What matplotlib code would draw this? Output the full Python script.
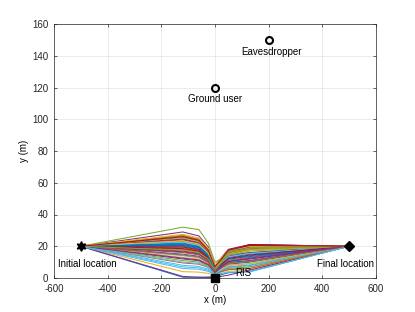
import matplotlib
matplotlib.use("Agg")
import matplotlib.pyplot as plt

# MATLAB default colour order
COLORS = ["#0072BD", "#D95319", "#EDB120", "#7E2F8E", "#77AC30", "#4DBEEE", "#A2142F"]

# x knots shared by every trajectory (m)
traj_x = [-500, -120, -60, -25, 0, 50, 130, 500]

# y of each trajectory at the knots above
y_start = 20
y_m120 = [22, 18, 26, 29, 32, 14, 24, 20, 16, 25, 12, 27, 8, 21,
          0.5, 19, 4, 1.0, 23, 6, 17, 15, 26.5, 13, 24.5, 11, 22.5, 18.5,
          21.5, 9.5, 23.5, 16.5, 25.5, 10, 19.5, 20.5, 14.5, 27.5, 12.5, 17.5, 7, 26]
y_m60 = [20.1, 16.4, 23.7, 26.5, 30.5, 12.8, 21.8, 18.2, 14.6, 22.8, 10.9, 24.6, 7.3, 19.2,
         0.5, 17.3, 3.7, 0.4, 21.0, 5.5, 15.6, 13.7, 24.2, 11.9, 22.3, 10.0, 20.5, 16.9,
         19.6, 8.7, 21.4, 15.1, 23.3, 9.2, 17.8, 18.7, 13.2, 25.2, 11.4, 16.0, 6.4, 23.7]
y_m25 = [14.8, 12.2, 17.5, 19.6, 22.0, 9.5, 15.9, 13.3, 10.6, 16.9, 8.0, 18.0, 5.5, 14.3,
         0.6, 12.7, 2.9, 0.3, 15.4, 4.2, 11.6, 10.0, 17.7, 9.0, 16.2, 7.4, 15.1, 12.4,
         14.5, 6.6, 15.6, 11.1, 17.2, 6.9, 13.0, 13.8, 9.8, 18.7, 8.5, 11.9, 4.8, 17.5]
y_0 = [6, 5, 7, 8, 10, 4, 6, 5, 4, 7, 3, 7, 2.5, 6,
       1, 5, 1.5, 0.3, 6, 2, 5, 4, 7, 4, 6, 3, 6, 5,
       6, 3, 6, 4.5, 7, 3, 5, 5.5, 4, 8, 3.5, 5, 2, 7]
y_50 = [13.0, 10.5, 16.4, 18.1, 14.7, 7.9, 17.7, 12.0, 9.5, 15.6, 6.9, 17.1, 5.2, 17.3,
        3.3, 11.2, 4.2, 1.8, 14.6, 5.9, 16.3, 8.7, 16.0, 7.9, 13.8, 6.1, 13.4, 17.5,
        11.9, 5.3, 15.0, 10.4, 16.4, 6.9, 12.4, 9.8, 9.1, 17.4, 10.5, 15.1, 3.6, 17.5]
y_130 = [15, 12, 19, 21, 16, 9, 21, 14, 11, 18, 8, 20, 6, 20.5,
         4, 13, 5, 5, 17, 7, 19.5, 10, 18.5, 9, 16, 7, 15.5, 21,
         13.5, 6, 17.5, 12, 19, 8, 14.5, 11, 10.5, 20, 12.5, 18, 4, 20.5]
y_end = 20

# special locations
start_xy = (-500, 20)
end_xy = (500, 20)
ris_xy = (0, 0)
user_xy = (0, 120)
eve_xy = (200, 150)

plt.rcParams["font.family"] = ["Liberation Sans", "DejaVu Sans"]
plt.rcParams["font.size"] = 7
plt.rcParams["axes.unicode_minus"] = False

fig = plt.figure(figsize=(4.15, 3.12), dpi=100)
ax = fig.add_axes([0.13, 0.109, 0.776, 0.814])

for i in range(len(y_m120)):
    ys = [y_start, y_m120[i], y_m60[i], y_m25[i], y_0[i], y_50[i], y_130[i], y_end]
    ax.plot(traj_x, ys, color=COLORS[i % len(COLORS)], lw=0.75)

ax.plot(*start_xy, marker=(6, 1, 0), color="k", ms=7, ls="none")
ax.plot(*end_xy, marker="D", color="k", ms=5.5, ls="none")
ax.plot(*ris_xy, marker="s", color="k", ms=5.5, ls="none", clip_on=False, zorder=5)
ax.plot(*user_xy, marker="o", mfc="none", mec="k", mew=1.5, ms=5, ls="none")
ax.plot(*eve_xy, marker="o", mfc="none", mec="k", mew=1.5, ms=5, ls="none")

ax.text(-475, 9, "Initial location", ha="center", va="center")
ax.text(488, 9, "Final location", ha="center", va="center")
ax.text(75, 3, "RIS", ha="left", va="center")
ax.text(2, 112.5, "Ground user", ha="center", va="center")
ax.text(210, 142.5, "Eavesdropper", ha="center", va="center")

ax.set_xlim(-600, 600)
ax.set_ylim(0, 160)
ax.set_xticks(range(-600, 601, 200))
ax.set_yticks(range(0, 161, 20))
ax.set_xlabel("x (m)", labelpad=1)
ax.set_ylabel("y (m)", labelpad=2)
ax.grid(True, color="#262626", alpha=0.12, lw=0.5)
ax.tick_params(direction="in", length=2.5, width=0.5, top=True, right=True,
               colors="#262626")
ax.tick_params(axis="x", pad=4)
ax.tick_params(axis="y", pad=4)
for s in ax.spines.values():
    s.set_linewidth(0.5)
    s.set_color("#262626")

fig.savefig("out.png", dpi=100)
